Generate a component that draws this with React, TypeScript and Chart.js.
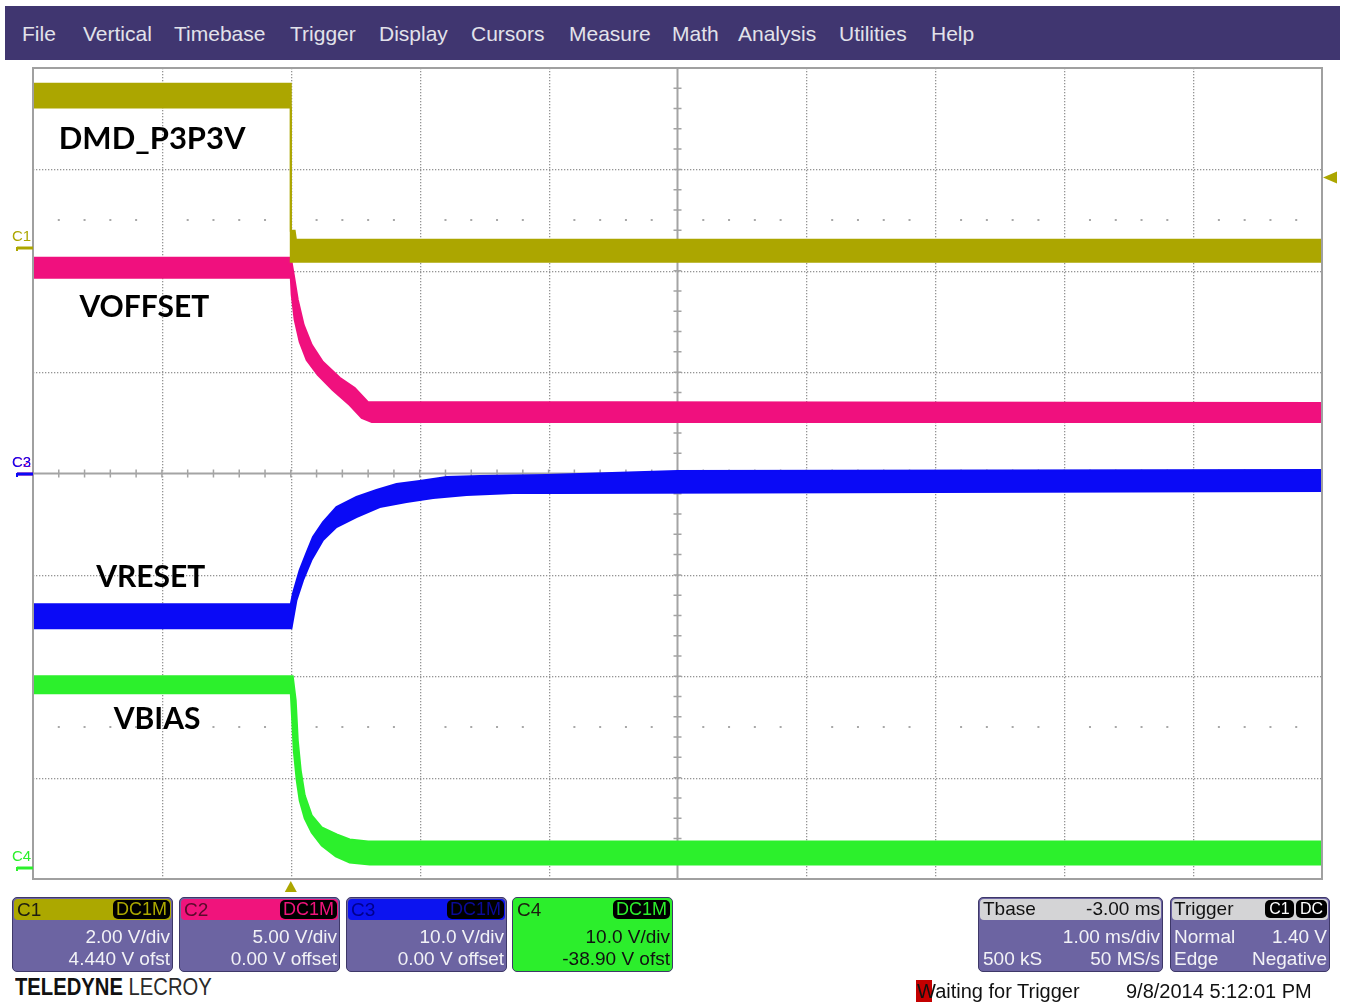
import React, { useEffect, useRef } from "react";
import { Chart, registerables } from "chart.js";

Chart.register(...registerables);

// ---------------- menu ----------------
const MENU_ITEMS = ["File", "Vertical", "Timebase", "Trigger", "Display", "Cursors", "Measure", "Math", "Analysis", "Utilities", "Help"];
const MENU_X = [22, 83, 174, 290, 379, 471, 569, 672, 738, 839, 931];

// ---------------- channels ----------------
const CH_NAMES = ["C1", "C2", "C3", "C4"];
const CH_VDIV = [2, 5, 10, 10]; // V/div
const CH_OFFSET = [4.44, 0, 0, -38.9]; // V offset
const CH_COUPLING = ["DC1M", "DC1M", "DC1M", "DC1M"];
const CH_VDIV_TEXT = ["2.00 V/div", "5.00 V/div", "10.0 V/div", "10.0 V/div"];
const CH_OFS_TEXT = ["4.440 V ofst", "0.00 V offset", "0.00 V offset", "-38.90 V ofst"];
const TRACE_LABELS = ["DMD_P3P3V", "VOFFSET", "VRESET", "VBIAS"];

// time axis (ms): 10 divisions, 1 ms/div, trigger at t = 0
const T_MIN = -2;
const T_MAX = 8;

// trigger
const TRIG_LEVEL = 1.4; // V on C1
const TRIG_TIME = 0;

// ---------------- trace envelopes (volts vs ms) ----------------
// C1 DMD_P3P3V
const C1_HI_T = [-2, 0, 0, 0.03, 0.04, 8];
const C1_HI_V = [3.25, 3.25, 0.35, 0.35, 0.17, 0.17];
const C1_LO_T = [-2, 0, 0, 8];
const C1_LO_V = [2.78, 2.78, -0.26, -0.26];

// C2 VOFFSET
const C2_HI_T = [-2, 0, 0.023, 0.054, 0.1, 0.162, 0.248, 0.38, 0.496, 0.597, 8];
const C2_HI_V = [10.64, 10.64, 9.8, 8.57, 7.33, 6.35, 5.51, 4.72, 4.22, 3.53, 3.48];
const C2_LO_T = [-2, 0, 0.007, 0.03, 0.069, 0.123, 0.209, 0.325, 0.457, 0.55, 0.628, 8];
const C2_LO_V = [9.65, 9.65, 8.81, 7.58, 6.49, 5.6, 4.86, 4.12, 3.38, 2.74, 2.54, 2.54];

// C3 VRESET
const C3_HI_T = [-2, 0, 0.017, 0.069, 0.121, 0.172, 0.25, 0.354, 0.509, 0.665, 0.82, 1.0, 1.208, 1.467, 1.984, 3.0, 8];
const C3_HI_V = [-12.89, -12.89, -11.8, -9.53, -7.85, -6.27, -4.79, -3.31, -2.32, -1.63, -1.04, -0.74, -0.35, -0.25, -0.15, 0.25, 0.35];
const C3_LO_T = [-2, 0.005, 0.044, 0.095, 0.16, 0.25, 0.354, 0.509, 0.69, 0.897, 1.104, 1.363, 1.725, 2.062, 8];
const C3_LO_V = [-15.26, -15.26, -12.49, -10.52, -8.54, -6.57, -5.28, -4.3, -3.31, -2.82, -2.42, -2.12, -1.93, -1.93, -1.73];

// C4 VBIAS
const C4_HI_T = [-2, 0.015, 0.038, 0.054, 0.077, 0.108, 0.162, 0.24, 0.356, 0.457, 0.6, 8];
const C4_HI_V = [18.9, 18.9, 16.53, 12.58, 9.62, 7.15, 5.17, 3.99, 3.3, 2.8, 2.6, 2.6];
const C4_LO_T = [-2, 0, 0.011, 0.023, 0.046, 0.069, 0.108, 0.162, 0.24, 0.349, 0.457, 0.612, 8];
const C4_LO_V = [17.22, 17.22, 14.55, 11.59, 8.63, 6.65, 4.88, 3.49, 2.21, 1.12, 0.53, 0.33, 0.33];

const HI_T = [C1_HI_T, C2_HI_T, C3_HI_T, C4_HI_T];
const HI_V = [C1_HI_V, C2_HI_V, C3_HI_V, C4_HI_V];
const LO_T = [C1_LO_T, C2_LO_T, C3_LO_T, C4_LO_T];
const LO_V = [C1_LO_V, C2_LO_V, C3_LO_V, C4_LO_V];

// ---------------- timebase / trigger panel text ----------------
const TBASE_DELAY = "-3.00 ms";
const TBASE_DIV = "1.00 ms/div";
const TBASE_SAMPLES = "500 kS";
const TBASE_RATE = "50 MS/s";
const TRIG_MODE = "Normal";
const TRIG_LEVEL_TEXT = "1.40 V";
const TRIG_TYPE = "Edge";
const TRIG_SLOPE = "Negative";
const STATUS_TEXT = "Waiting for Trigger";
const DATE_TEXT = "9/8/2014 5:12:01 PM";

// ---------------- styles ----------------
const TRACE_COLORS = ["#aca600", "#f0107e", "#0a0af6", "#2cf02c"];
const HEADER_COLORS = ["#aca800", "#f0147c", "#0c14f0", "#2cee2c"];
const BOX_X = [12, 179, 346, 512];
const BOX_W = 161;
const LABEL_T = [-1.8, -1.64, -1.51, -1.374];
const LABEL_DIV = [3.31, 1.654, -1.012, -2.415];
const LABEL_SIZE = [31, 30, 30, 30];
const UI_FONT = "'Liberation Sans', Arial, sans-serif";

function toDiv(v: number, ch: number) {
  return (v + CH_OFFSET[ch]) / CH_VDIV[ch];
}

const scopePlugin = {
  id: "scope",
  beforeDatasetsDraw(chart: any) {
    const { ctx, chartArea: a } = chart;
    const w = a.right - a.left;
    const h = a.bottom - a.top;
    const dx = w / 10;
    const dy = h / 8;
    const cx = a.left + 5 * dx;
    const cy = a.top + 4 * dy;
    ctx.save();
    ctx.fillStyle = "#949494";
    for (let i = 1; i < 10; i++) {
      if (i === 5) continue;
      const x = Math.round(a.left + i * dx);
      for (let y = a.top; y < a.bottom; y += 3) ctx.fillRect(x, y, 1.3, 1.3);
    }
    for (let j = 1; j < 8; j++) {
      if (j === 4) continue;
      const y = Math.round(a.top + j * dy);
      for (let x = a.left; x < a.right; x += 3) ctx.fillRect(x, y, 1.3, 1.3);
    }
    // quarter-screen dot rows
    ctx.fillStyle = "#a8a8a8";
    [cy - 2.5 * dy, cy + 2.5 * dy].forEach((y) => {
      for (let k = 1; k < 50; k++) {
        if (k % 5 === 0) continue;
        ctx.fillRect(a.left + (k * dx) / 5 - 1, Math.round(y) - 1, 2, 2);
      }
    });
    // center cross
    ctx.strokeStyle = "#a4a4a4";
    ctx.lineWidth = 2;
    ctx.beginPath();
    ctx.moveTo(cx, a.top);
    ctx.lineTo(cx, a.bottom);
    ctx.moveTo(a.left, cy);
    ctx.lineTo(a.right, cy);
    ctx.stroke();
    ctx.lineWidth = 1.5;
    ctx.beginPath();
    for (let k = 1; k < 50; k++) {
      const x = a.left + (k * dx) / 5;
      ctx.moveTo(x, cy - 4);
      ctx.lineTo(x, cy + 4);
    }
    for (let k = 1; k < 40; k++) {
      const y = a.top + (k * dy) / 5;
      ctx.moveTo(cx - 4, y);
      ctx.lineTo(cx + 4, y);
    }
    ctx.stroke();
    ctx.restore();
  },
  afterDatasetsDraw(chart: any) {
    const { ctx, chartArea: a, scales } = chart;
    const xs = scales.x;
    const ys = scales.y;
    ctx.save();
    // frame
    ctx.strokeStyle = "#a0a0a0";
    ctx.lineWidth = 2;
    ctx.strokeRect(a.left, a.top, a.right - a.left, a.bottom - a.top);

    // trace labels
    ctx.fillStyle = "#000";
    ctx.textAlign = "left";
    ctx.textBaseline = "alphabetic";
    TRACE_LABELS.forEach((txt, i) => {
      ctx.font = "bold " + LABEL_SIZE[i] + "px Lato, 'Open Sans', sans-serif";
      ctx.fillText(txt, xs.getPixelForValue(LABEL_T[i]), ys.getPixelForValue(LABEL_DIV[i]) + 11);
    });

    // channel ground markers (C2 sits under C3)
    ctx.font = "15px " + UI_FONT;
    [1, 0, 2, 3].forEach((ch) => {
      const gy = Math.round(ys.getPixelForValue(toDiv(0, ch)));
      ctx.fillStyle = TRACE_COLORS[ch];
      ctx.fillText(CH_NAMES[ch], 12, gy - 7);
      ctx.strokeStyle = TRACE_COLORS[ch];
      ctx.lineWidth = 3;
      ctx.beginPath();
      ctx.moveTo(17, gy);
      ctx.lineTo(a.left, gy);
      ctx.stroke();
      ctx.lineWidth = 2;
      ctx.beginPath();
      ctx.moveTo(17, gy - 1);
      ctx.lineTo(17, gy + 3);
      ctx.stroke();
    });

    // trigger markers
    ctx.fillStyle = TRACE_COLORS[0];
    const tx = xs.getPixelForValue(TRIG_TIME);
    ctx.beginPath();
    ctx.moveTo(tx, a.bottom + 2);
    ctx.lineTo(tx - 6, a.bottom + 13);
    ctx.lineTo(tx + 6, a.bottom + 13);
    ctx.closePath();
    ctx.fill();
    const ty = ys.getPixelForValue(toDiv(TRIG_LEVEL, 0));
    ctx.beginPath();
    ctx.moveTo(a.right + 1, ty);
    ctx.lineTo(a.right + 15, ty - 6);
    ctx.lineTo(a.right + 15, ty + 6);
    ctx.closePath();
    ctx.fill();
    ctx.restore();
  },
};

function ScopeChart() {
  const ref = useRef<HTMLCanvasElement | null>(null);
  useEffect(() => {
    if (!ref.current) return;
    const datasets: any[] = [];
    for (let ch = 0; ch < 4; ch++) {
      datasets.push({
        label: CH_NAMES[ch] + " hi",
        data: HI_T[ch].map((t, i) => ({ x: t, y: toDiv(HI_V[ch][i], ch) })),
        borderColor: TRACE_COLORS[ch],
        backgroundColor: TRACE_COLORS[ch],
        borderWidth: 2,
        pointRadius: 0,
        tension: 0,
        fill: "+1",
      });
      datasets.push({
        label: CH_NAMES[ch] + " lo",
        data: LO_T[ch].map((t, i) => ({ x: t, y: toDiv(LO_V[ch][i], ch) })),
        borderColor: TRACE_COLORS[ch],
        backgroundColor: TRACE_COLORS[ch],
        borderWidth: 2,
        pointRadius: 0,
        tension: 0,
        fill: false,
      });
    }
    const chart = new Chart(ref.current, {
      type: "line",
      data: { datasets },
      options: {
        animation: false,
        responsive: false,
        maintainAspectRatio: false,
        layout: { padding: { left: 33, right: 23, top: 8, bottom: 21 } },
        scales: {
          x: { type: "linear", min: T_MIN, max: T_MAX, display: false },
          y: { type: "linear", min: -4, max: 4, display: false },
        },
        plugins: { legend: { display: false }, tooltip: { enabled: false } },
        events: [],
      },
      plugins: [scopePlugin],
    } as any);
    return () => chart.destroy();
  }, []);
  return (
    <canvas
      ref={ref}
      width={1345}
      height={840}
      style={{ position: "absolute", left: 0, top: 60, width: 1345, height: 840, background: "#fff" }}
    />
  );
}

const txt = (extra: React.CSSProperties): React.CSSProperties => ({
  position: "absolute",
  fontFamily: UI_FONT,
  fontSize: 19,
  lineHeight: "22px",
  whiteSpace: "nowrap",
  ...extra,
});

function ChannelBox({ ch }: { ch: number }) {
  const isC4 = ch === 3;
  const body = isC4 ? HEADER_COLORS[3] : "#6c64a2";
  const textColor = isC4 ? "#111" : "#f2f2f6";
  const headText = ch === 2 ? "#00008c" : ch === 1 ? "#5a0a2c" : "#1c1c10";
  return (
    <div
      style={{
        position: "absolute",
        left: BOX_X[ch],
        top: 897,
        width: BOX_W,
        height: 75,
        background: body,
        border: "1px solid #3e3868",
        borderRadius: 5,
        boxSizing: "border-box",
      }}
    >
      <div
        style={{
          position: "absolute",
          left: 1,
          top: 1,
          right: 1,
          height: 21,
          background: HEADER_COLORS[ch],
          borderRadius: 4,
        }}
      >
        <span style={txt({ left: 3, top: 0, lineHeight: "21px", color: headText })}>{CH_NAMES[ch]}</span>
        <span
          style={txt({
            right: 1,
            top: 1,
            width: 57,
            height: 19,
            lineHeight: "19px",
            fontSize: 18,
            textAlign: "center",
            background: "#000",
            borderRadius: 5,
            color: ch === 2 ? "#0a0a9a" : HEADER_COLORS[ch],
          })}
        >
          {CH_COUPLING[ch]}
        </span>
      </div>
      <span style={txt({ right: 2, top: 28, color: textColor })}>{CH_VDIV_TEXT[ch]}</span>
      <span style={txt({ right: 2, top: 50, color: textColor })}>{CH_OFS_TEXT[ch]}</span>
    </div>
  );
}

function InfoBox({ left, width, children }: { left: number; width: number; children: React.ReactNode }) {
  return (
    <div
      style={{
        position: "absolute",
        left,
        top: 897,
        width,
        height: 75,
        background: "#6c64a2",
        border: "1px solid #3e3868",
        borderRadius: 5,
        boxSizing: "border-box",
      }}
    >
      <div style={{ position: "absolute", left: 1, top: 1, right: 1, height: 21, background: "#d4d4d6", borderRadius: 4 }} />
      {children}
    </div>
  );
}

export default function App() {
  const white = "#f2f2f6";
  return (
    <div style={{ position: "absolute", left: 0, top: 0, width: 1345, height: 1004, background: "#fff", overflow: "hidden" }}>
      <div style={{ position: "absolute", left: 5, top: 6, width: 1335, height: 56, background: "#403670" }} />
      {MENU_ITEMS.map((m, i) => (
        <span
          key={m}
          style={txt({ left: MENU_X[i], top: 22, fontSize: 21, lineHeight: "24px", color: "#e2e2ea" })}
        >
          {m}
        </span>
      ))}
      <ScopeChart />
      {[0, 1, 2, 3].map((ch) => (
        <ChannelBox key={ch} ch={ch} />
      ))}
      <InfoBox left={978} width={185}>
        <span style={txt({ left: 4, top: 0, lineHeight: "22px", color: "#111" })}>Tbase</span>
        <span style={txt({ right: 2, top: 0, lineHeight: "22px", color: "#111" })}>{TBASE_DELAY}</span>
        <span style={txt({ right: 2, top: 28, color: white })}>{TBASE_DIV}</span>
        <span style={txt({ left: 4, top: 50, color: white })}>{TBASE_SAMPLES}</span>
        <span style={txt({ right: 2, top: 50, color: white })}>{TBASE_RATE}</span>
      </InfoBox>
      <InfoBox left={1170} width={160}>
        <span style={txt({ left: 3, top: 0, lineHeight: "22px", color: "#111" })}>Trigger</span>
        <span
          style={txt({ left: 94, top: 2, width: 29, height: 18, lineHeight: "18px", fontSize: 16, textAlign: "center", background: "#000", borderRadius: 5, color: "#fff" })}
        >
          C1
        </span>
        <span
          style={txt({ left: 125, top: 2, width: 31, height: 18, lineHeight: "18px", fontSize: 16, textAlign: "center", background: "#000", borderRadius: 5, color: "#fff" })}
        >
          DC
        </span>
        <span style={txt({ left: 3, top: 28, color: white })}>{TRIG_MODE}</span>
        <span style={txt({ right: 2, top: 28, color: white })}>{TRIG_LEVEL_TEXT}</span>
        <span style={txt({ left: 3, top: 50, color: white })}>{TRIG_TYPE}</span>
        <span style={txt({ right: 2, top: 50, color: white })}>{TRIG_SLOPE}</span>
      </InfoBox>
      <div
        style={{
          position: "absolute",
          left: 15,
          top: 976,
          fontFamily: UI_FONT,
          fontSize: 23,
          lineHeight: "23px",
          whiteSpace: "nowrap",
          transform: "scaleX(0.88)",
          transformOrigin: "left top",
          color: "#111",
        }}
      >
        <b>TELEDYNE</b> <span style={{ color: "#2a2a2a" }}>LECROY</span>
      </div>
      <div style={{ position: "absolute", left: 916, top: 980, width: 16, height: 22, background: "#c40000" }} />
      <span style={txt({ left: 917, top: 979, fontSize: 20, lineHeight: "24px", color: "#111" })}>{STATUS_TEXT}</span>
      <span style={txt({ left: 1126, top: 979, fontSize: 20, lineHeight: "24px", color: "#111" })}>{DATE_TEXT}</span>
    </div>
  );
}
